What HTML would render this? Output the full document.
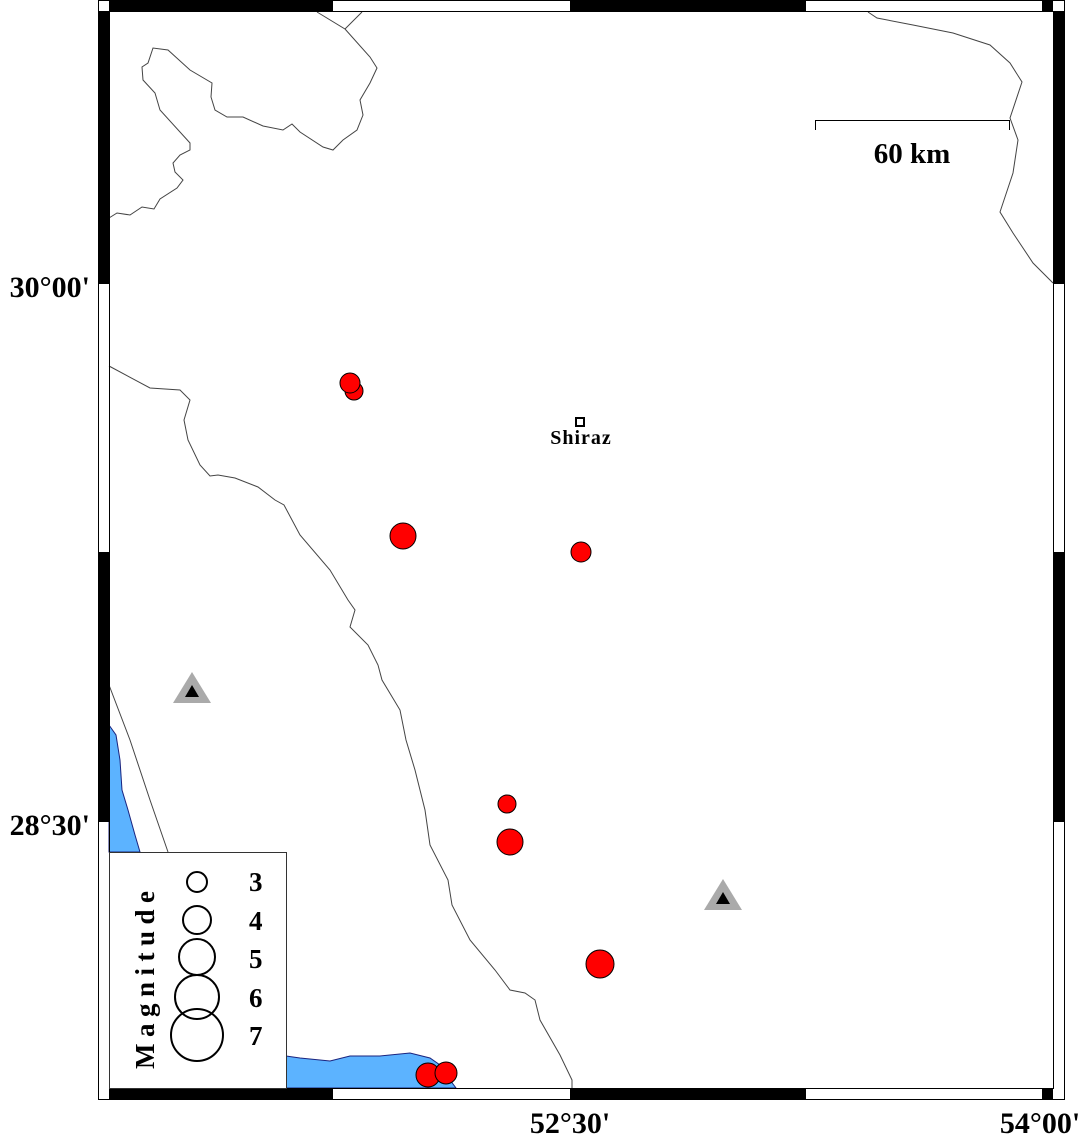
<!DOCTYPE html>
<html><head><meta charset="utf-8"><style>body{margin:0;background:#fff}svg{display:block}</style></head><body>
<svg width="1084" height="1137" viewBox="0 0 1084 1137" xmlns="http://www.w3.org/2000/svg">
<rect width="1084" height="1137" fill="#fff"/>
<!-- water -->
<path d="M109,725 L116,735 L120,760 L122,790 L128,810 L135,835 L140,852 L109,852 Z" fill="#5cb3ff" stroke="#1a237e" stroke-width="1"/>
<path d="M286,1056 L300,1058 L330,1061 L350,1056 L380,1056 L410,1053 L430,1058 L440,1065 L450,1080 L456,1088 L286,1088 Z" fill="#5cb3ff" stroke="#1a237e" stroke-width="1"/>
<g fill="none" stroke="#444" stroke-width="1">
<path d="M109,366 L150,388 L180,390 L190,400 L184,420 L188,440 L200,465 L210,476 L218,475 L235,478 L258,487 L275,500 L284,505 L300,535 L330,570 L348,600 L355,610 L350,627 L368,645 L378,665 L382,680 L400,710 L406,740 L415,770 L425,810 L430,845 L448,880 L452,905 L470,940 L495,970 L510,990 L525,993 L535,1000 L540,1020 L560,1055 L572,1080 L572,1088"/>
<path d="M317,12 L345,29 L362,12 M345,29 L370,57 L377,68 L370,83 L360,100 L363,115 L357,130 L343,140 L333,150 L323,147 L300,132 L292,124 L283,130 L263,126 L243,117 L227,117 L215,110 L211,97 L212,83 L190,70 L168,50 L153,48 L148,63 L142,67 L143,80 L155,93 L160,110 L190,143 L190,150 L180,155 L173,163 L175,172 L183,180 L177,188 L160,199 L154,209 L142,207 L130,215 L117,213 L109,218"/>
<path d="M868,12 L877,18 L913,25 L953,33 L990,45 L1010,63 L1022,82 L1010,118 L1018,140 L1013,173 L1000,212 L1013,233 L1033,263 L1053,283"/>
<path d="M109,685 L130,740 L150,800 L168,852"/>
</g>
<!-- frame -->
<g stroke="#000" stroke-width="1" fill="none">
<rect x="98.5" y="0.5" width="966" height="1099"/>
<rect x="109.5" y="11.5" width="944" height="1077"/>
</g>
<g fill="#000">
<rect x="99" y="11" width="10" height="273"/><rect x="99" y="552" width="10" height="270"/>
<rect x="1054" y="11" width="10" height="273"/><rect x="1054" y="552" width="10" height="270"/>
<rect x="109" y="1" width="224" height="10"/><rect x="570" y="1" width="236" height="10"/><rect x="1042" y="1" width="11" height="10"/>
<rect x="109" y="1089" width="224" height="10"/><rect x="570" y="1089" width="236" height="10"/><rect x="1042" y="1089" width="11" height="10"/>
</g>
<!-- events -->
<g fill="#ff0000" stroke="#000" stroke-width="1">
<circle cx="354" cy="391" r="9"/><circle cx="350" cy="383" r="10"/>
<circle cx="403" cy="536" r="13"/><circle cx="581" cy="552" r="10"/>
<circle cx="507" cy="804" r="9"/><circle cx="510" cy="842" r="13"/>
<circle cx="600" cy="964" r="14"/><circle cx="428" cy="1075" r="12"/><circle cx="446" cy="1073" r="11"/>
</g>
<g>
<polygon points="192,672 173,703 211,703" fill="#aaa"/><polygon points="192,685 185,697 199,697" fill="#000"/>
<polygon points="723,879 704,910 742,910" fill="#aaa"/><polygon points="723,892 716,904 730,904" fill="#000"/>
</g>
<rect x="576" y="418" width="8" height="8" fill="#fff" stroke="#000" stroke-width="2"/>
<text x="581" y="444" text-anchor="middle" font-family="Liberation Serif, serif" font-weight="bold" font-size="20" letter-spacing="1">Shiraz</text>
<!-- scale -->
<path d="M815.5,130 V120.5 H1009.5 V130" fill="none" stroke="#000" stroke-width="1"/>
<text x="912" y="163" text-anchor="middle" font-family="Liberation Serif, serif" font-weight="bold" font-size="29">60 km</text>
<!-- legend -->
<rect x="109.5" y="852.5" width="177" height="236" fill="#fff" stroke="#333" stroke-width="1"/>
<text transform="translate(154,1069) rotate(-90)" font-family="Liberation Serif, serif" font-weight="bold" font-size="27" letter-spacing="6.5">Magnitude</text>
<g fill="none" stroke="#000" stroke-width="2">
<circle cx="197" cy="882" r="10"/><circle cx="197" cy="920" r="14"/><circle cx="197" cy="957" r="18"/><circle cx="197" cy="997" r="22"/><circle cx="197" cy="1035" r="26"/>
</g>
<g font-family="Liberation Serif, serif" font-weight="bold" font-size="27">
<text x="249" y="891">3</text><text x="249" y="930">4</text><text x="249" y="968">5</text><text x="249" y="1007">6</text><text x="249" y="1045">7</text>
</g>
<!-- axis labels -->
<g font-family="Liberation Serif, serif" font-weight="bold" font-size="30">
<text x="90" y="297" text-anchor="end">30°00'</text>
<text x="90" y="835" text-anchor="end">28°30'</text>
<text x="570" y="1133" text-anchor="middle">52°30'</text>
<text x="1040" y="1133" text-anchor="middle">54°00'</text>
</g>
</svg>
</body></html>
